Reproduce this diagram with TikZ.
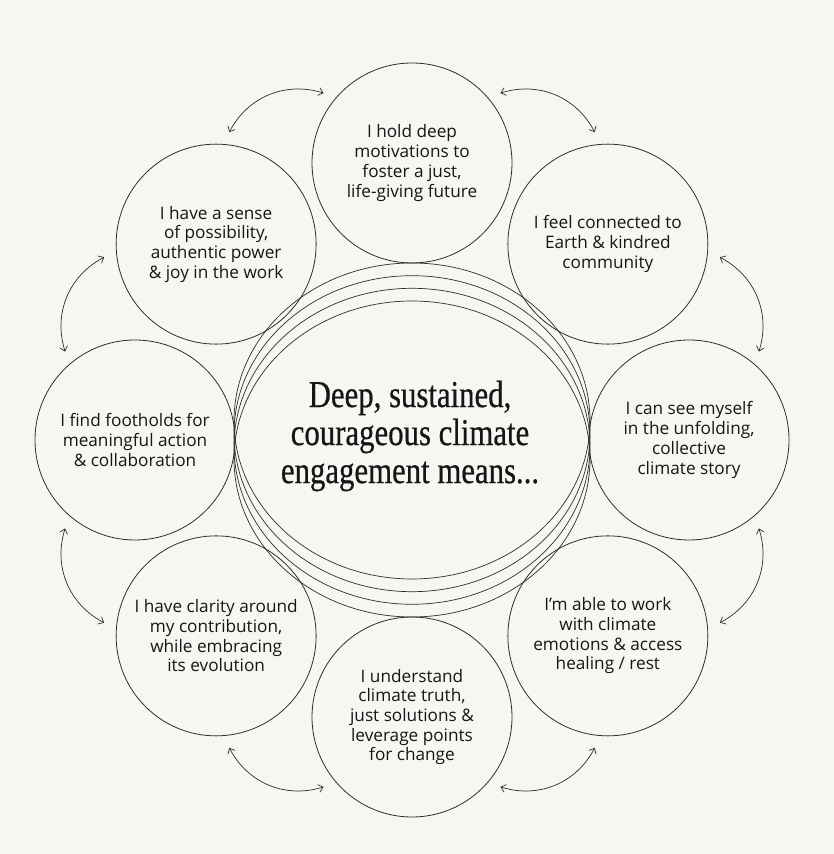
\documentclass[tikz,border=0pt]{standalone}
\usepackage{fontspec}
\setmainfont{Open Sans}
\newfontfamily\headfont[FakeStretch=0.81,FakeBold=0.5]{Liberation Serif}
\usetikzlibrary{arrows.meta,calc}
\definecolor{paper}{HTML}{F8F6F2}
\definecolor{ink}{HTML}{2E2E2E}
\definecolor{type}{HTML}{161616}

\begin{document}
\begin{tikzpicture}[x=1pt,y=1pt,
  idea/.style={circle,draw=ink,line width=0.8pt,minimum size=200pt,inner sep=0pt,
    align=center,text=type,font=\fontsize{17.2}{19.7}\selectfont},
  link/.style={draw=ink,line width=0.7pt,
    {Straight Barb[length=4.5pt,width=8pt]}-{Straight Barb[length=4.5pt,width=8pt]}}]
\fill[paper] (0,0) rectangle (834,854);
\useasboundingbox (0,0) rectangle (834,854);
\coordinate (c) at (412,414);
% the stacked ellipses in the middle
\foreach \dy in {19,6.3,-6.3,-19}
  \draw[ink,line width=0.7pt] ($(c)+(0,\dy)$) ellipse [x radius=178, y radius=158];
\node[font=\headfont\fontsize{38}{38}\selectfont,text=type,align=center] (core) at (410,418)
  {Deep, sustained,\\courageous climate\\engagement means...};
% the ring of eight
\node[idea] (motiv) at ($(c)+(90:277)$) {I hold deep\\motivations to\\foster a just,\\life-giving future};
\node[idea] (earth) at ($(c)+(45:277)$) {I feel connected to\\Earth \& kindred\\community};
\node[idea] (story) at ($(c)+(0:277)$) {I can see myself\\in the unfolding,\\collective\\climate story};
\node[idea] (heal) at ($(c)+(-45:277)$) {I’m able to work\\with climate\\emotions \& access\\healing / rest};
\node[idea] (truth) at ($(c)+(-90:277)$) {I understand\\climate truth,\\just solutions \&\\leverage points\\for change};
\node[idea] (clarity) at ($(c)+(-135:277)$) {I have clarity around\\my contribution,\\while embracing\\its evolution};
\node[idea] (foothold) at ($(c)+(180:277)$) {I find footholds for\\meaningful action\\\& collaboration};
\node[idea] (joy) at ($(c)+(135:277)$) {I have a sense\\of possibility,\\authentic power\\\& joy in the work};
% arrows between neighbours
\foreach \a [count=\i] in {67.5,22.5,-22.5,-67.5,-112.5,-157.5,157.5,112.5} {
  \coordinate (s\i) at ($(c)+(\a+8.2:358)$);
  \coordinate (t\i) at ($(c)+(\a-8.2:358)$);
  \draw[link] (s\i) to[bend left=40] (t\i);
}
\end{tikzpicture}
\end{document}
